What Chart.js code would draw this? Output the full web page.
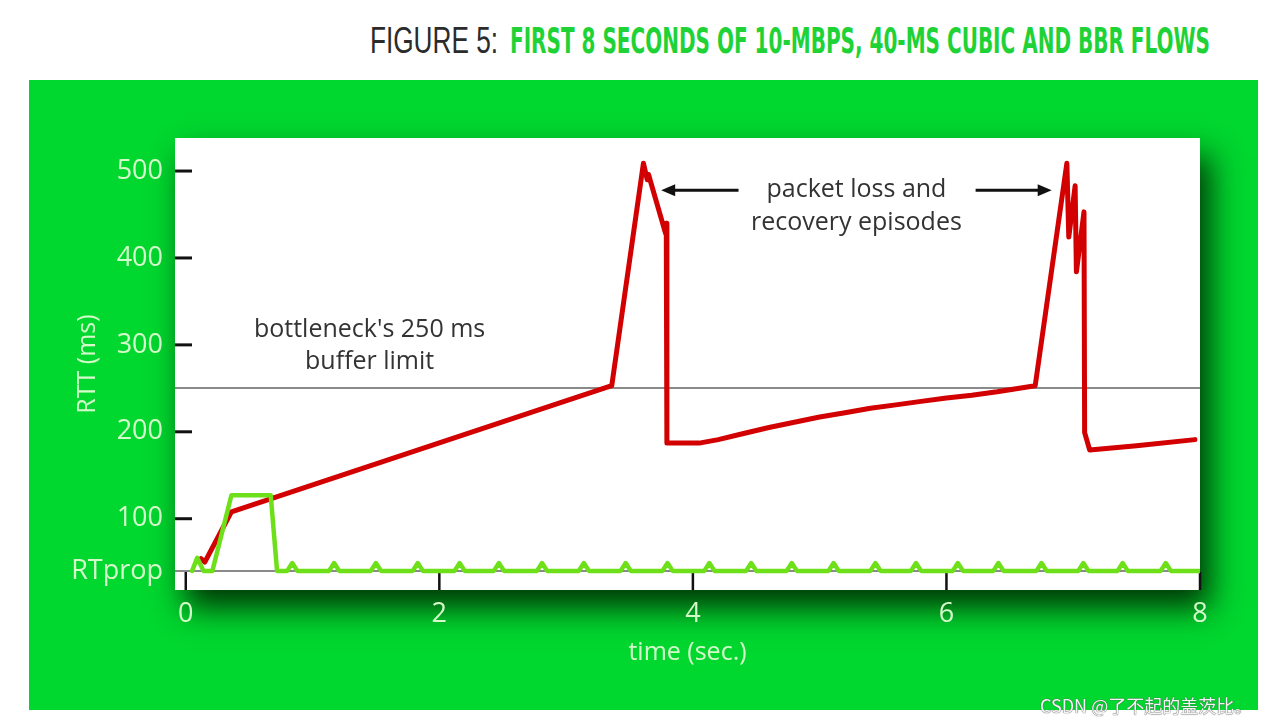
<!DOCTYPE html>
<html>
<head>
<meta charset="utf-8">
<script src="https://cdn.jsdelivr.net/npm/chart.js@4.4.1/dist/chart.umd.min.js"></script>
<style>
  html, body { margin: 0; padding: 0; background: #ffffff; }
  body { width: 1274px; height: 724px; position: relative; overflow: hidden; }
  #title span {
    position: absolute; top: 23px; white-space: nowrap; line-height: 1;
    font-size: 36px; transform-origin: 0 0;
  }
  #t1 { left: 370px; color: #2b2b2b; font-family: "Liberation Sans", sans-serif; }
  #t2 { left: 510px; color: #1fd236; font-family: "DejaVu Sans Condensed", "DejaVu Sans", sans-serif; font-weight: bold; }
  #panel { position: absolute; left: 29px; top: 80px; width: 1229px; height: 630px; background: #00d72f; }
  #chartCanvas { position: absolute; left: 0; top: 0; }
  #mark {
    position: absolute; left: 1040px; top: 692px; font-size: 18px; color: #f4f4f4;
    font-family: "Noto Sans CJK SC", "Liberation Sans", sans-serif;
    text-shadow: 0 0 1px #555, 0 0 1px #555;
  }
</style>
</head>
<body>
<div id="title"><span id="t1">FIGURE 5:</span><span id="t2">FIRST 8 SECONDS OF 10-MBPS, 40-MS CUBIC AND BBR FLOWS</span></div>
<div id="panel"><canvas id="chartCanvas" width="1229" height="630"></canvas></div>
<div id="mark">CSDN @了不起的盖茨比。</div>
<script>
// --- data (time in sec, RTT in ms) ---
const cubicTime = [0.12, 0.15, 0.36, 3.36, 3.61, 3.64, 3.65, 3.785, 3.79, 3.795,
  4.05, 4.20, 4.40, 4.60, 4.80, 5.00, 5.20, 5.40, 5.60, 5.80, 6.00, 6.20, 6.40, 6.70,
  6.95, 6.965, 7.015, 7.025, 7.085, 7.09, 7.13, 7.50, 7.96];
const cubicRtt = [54, 50, 108, 253, 509, 490, 496, 428, 440, 187,
  187, 191, 198, 205, 211, 217, 222, 227, 231, 235, 239, 242, 246, 253,
  509, 424, 483, 384, 453, 199, 179, 184, 191];

const bbrTime = [0.05, 0.09, 0.14, 0.21, 0.36, 0.67, 0.72,
  0.80, 0.84, 0.88, 1.13, 1.17, 1.21, 1.46, 1.50, 1.54, 1.79, 1.83, 1.87,
  2.12, 2.16, 2.20, 2.43, 2.47, 2.51, 2.77, 2.81, 2.85, 3.10, 3.14, 3.18,
  3.43, 3.47, 3.51, 3.76, 3.80, 3.84, 4.09, 4.13, 4.17, 4.42, 4.46, 4.50,
  4.74, 4.78, 4.82, 5.07, 5.11, 5.15, 5.40, 5.44, 5.48, 5.72, 5.76, 5.80,
  6.05, 6.09, 6.13, 6.37, 6.41, 6.45, 6.71, 6.75, 6.79, 7.04, 7.08, 7.12,
  7.35, 7.39, 7.43, 7.69, 7.73, 7.77, 8.00];
const bbrRtt = [40, 55, 40, 40, 127, 127, 40,
  40, 49, 40, 40, 49, 40, 40, 49, 40, 40, 49, 40,
  40, 49, 40, 40, 49, 40, 40, 49, 40, 40, 49, 40,
  40, 49, 40, 40, 49, 40, 40, 49, 40, 40, 49, 40,
  40, 49, 40, 40, 49, 40, 40, 49, 40, 40, 49, 40,
  40, 49, 40, 40, 49, 40, 40, 49, 40, 40, 49, 40,
  40, 49, 40, 40, 49, 40, 40];

const xTicks = [0, 2, 4, 6, 8];
const yTicks = [40, 100, 200, 300, 400, 500];
const rtProp = 40;
const bufferLimit = 250;

// fit title pieces to the width they take in the figure
function fitSpan(id, w) {
  const el = document.getElementById(id);
  el.style.transform = 'scaleX(' + (w / el.getBoundingClientRect().width) + ')';
}
fitSpan('t1', 128);
fitSpan('t2', 700);

function toPoints(xs, ys) {
  return xs.map((x, i) => ({ x: x, y: ys[i] }));
}

// white plot panel with its drop shadow, plus the gray reference lines
const backdrop = {
  id: 'backdrop',
  beforeDraw(chart) {
    const { ctx, chartArea: a } = chart;
    ctx.save();
    ctx.shadowColor = 'rgba(0,35,0,0.9)';
    ctx.shadowBlur = 30;
    ctx.shadowOffsetX = 10;
    ctx.shadowOffsetY = 18;
    ctx.fillStyle = '#ffffff';
    ctx.fillRect(a.left, a.top, a.right - a.left, a.bottom - a.top);
    ctx.restore();
  },
  beforeDatasetsDraw(chart) {
    const { ctx, chartArea: a, scales } = chart;
    ctx.save();
    ctx.strokeStyle = '#8a8a8a';
    ctx.lineWidth = 2;
    [bufferLimit, rtProp].forEach(v => {
      const y = Math.round(scales.y.getPixelForValue(v));
      ctx.beginPath();
      ctx.moveTo(a.left, y);
      ctx.lineTo(a.right, y);
      ctx.stroke();
    });
    // tick marks sit inside the panel
    ctx.strokeStyle = '#111111';
    ctx.lineWidth = 3;
    yTicks.filter(v => v !== rtProp).forEach(v => {
      const y = scales.y.getPixelForValue(v);
      ctx.beginPath();
      ctx.moveTo(a.left, y);
      ctx.lineTo(a.left + 17, y);
      ctx.stroke();
    });
    ctx.lineWidth = 2.5;
    xTicks.forEach(v => {
      const x = scales.x.getPixelForValue(v);
      ctx.beginPath();
      ctx.moveTo(x, a.bottom - 18);
      ctx.lineTo(x, a.bottom);
      ctx.stroke();
    });
    ctx.restore();
  },
  afterDatasetsDraw(chart) {
    const { ctx, scales } = chart;
    const px = v => scales.x.getPixelForValue(v);
    const py = v => scales.y.getPixelForValue(v);
    ctx.save();
    ctx.fillStyle = '#333333';
    ctx.font = '25px "Open Sans", sans-serif';
    ctx.textAlign = 'center';
    ctx.textBaseline = 'middle';
    ctx.fillText("bottleneck's 250 ms", px(1.45), py(317));
    ctx.fillText('buffer limit', px(1.45), py(280));
    ctx.fillText('packet loss and', px(5.29), py(478));
    ctx.fillText('recovery episodes', px(5.29), py(440));

    // arrows pointing at the two loss episodes
    drawArrow(ctx, px(4.36), px(3.75), py(478));
    drawArrow(ctx, px(6.23), px(6.83), py(478));
    ctx.restore();
  }
};

function drawArrow(ctx, x0, x1, y) {
  const dir = x1 > x0 ? 1 : -1;
  ctx.strokeStyle = '#111111';
  ctx.fillStyle = '#111111';
  ctx.lineWidth = 3;
  ctx.beginPath();
  ctx.moveTo(x0, y);
  ctx.lineTo(x1 - dir * 10, y);
  ctx.stroke();
  ctx.beginPath();
  ctx.moveTo(x1, y);
  ctx.lineTo(x1 - dir * 14, y - 6);
  ctx.lineTo(x1 - dir * 14, y + 6);
  ctx.closePath();
  ctx.fill();
}

const labelColor = '#d4fbc9';
const labelFont = { family: '"Open Sans", sans-serif', size: 27 };

new Chart(document.getElementById('chartCanvas').getContext('2d'), {
  type: 'line',
  data: {
    datasets: [
      {
        label: 'BBR',
        data: toPoints(bbrTime, bbrRtt),
        borderColor: '#6ee01a',
        borderWidth: 4.5,
        order: 1
      },
      {
        label: 'CUBIC',
        data: toPoints(cubicTime, cubicRtt),
        borderColor: '#d20000',
        borderWidth: 5,
        order: 2
      }
    ]
  },
  options: {
    responsive: false,
    animation: false,
    devicePixelRatio: 1,
    layout: { padding: { top: 58, right: 58, left: 0, bottom: 0 } },
    elements: {
      point: { radius: 0 },
      line: { tension: 0, borderJoinStyle: 'round', borderCapStyle: 'round' }
    },
    plugins: { legend: { display: false }, tooltip: { enabled: false } },
    scales: {
      x: {
        type: 'linear',
        min: -0.085,
        max: 8,
        afterBuildTicks: s => { s.ticks = xTicks.map(v => ({ value: v })); },
        afterFit: s => { s.height = 120; },
        grid: { display: false, drawTicks: false },
        border: { display: false },
        ticks: { color: labelColor, font: labelFont, padding: 8, maxRotation: 0 },
        title: {
          display: true, text: 'time (sec.)', color: labelColor,
          font: { family: '"Open Sans", sans-serif', size: 25 },
          padding: { top: 0, bottom: 42 }
        }
      },
      y: {
        type: 'linear',
        min: 18,
        max: 538,
        afterBuildTicks: s => { s.ticks = yTicks.map(v => ({ value: v })); },
        afterFit: s => { s.width = 146; },
        grid: { display: false, drawTicks: false },
        border: { display: false },
        ticks: {
          color: labelColor, font: labelFont, padding: 12,
          callback: v => (v === rtProp ? 'RTprop' : v)
        },
        title: {
          display: true, text: 'RTT (ms)', color: labelColor,
          font: { family: '"Open Sans", sans-serif', size: 25 },
          padding: { top: 44, bottom: 0 }
        }
      }
    }
  },
  plugins: [backdrop]
});
</script>
</body>
</html>
